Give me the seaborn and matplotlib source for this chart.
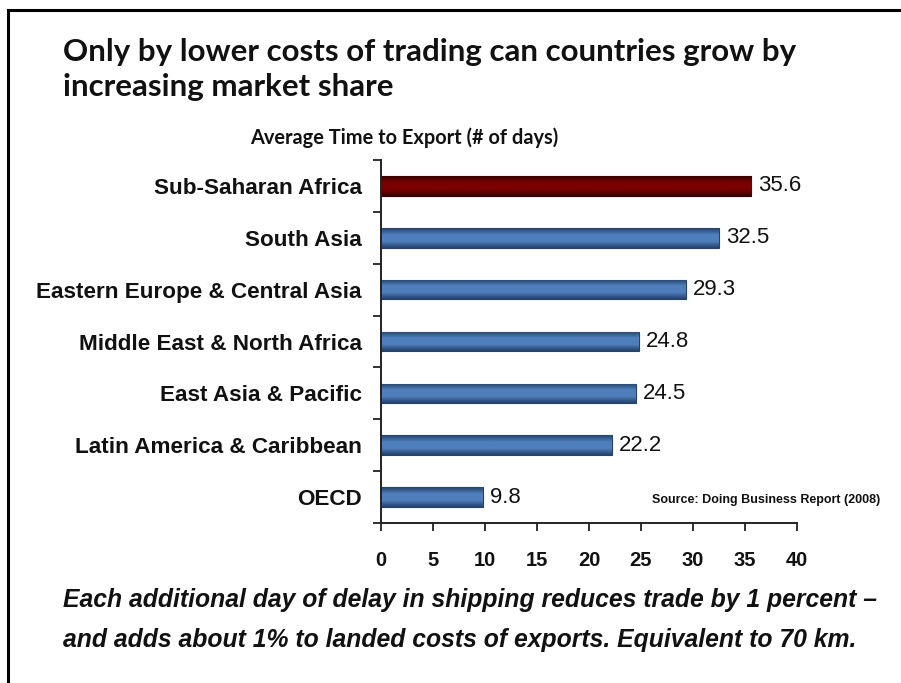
import numpy as np
import pandas as pd
import matplotlib
matplotlib.use("Agg")
import matplotlib.pyplot as plt
import seaborn as sns
from matplotlib.colors import LinearSegmentedColormap
from matplotlib.lines import Line2D

# Average time to export, in days, by region
regions = [
    "Sub-Saharan Africa",
    "South Asia",
    "Eastern Europe & Central Asia",
    "Middle East & North Africa",
    "East Asia & Pacific",
    "Latin America & Caribbean",
    "OECD",
]
days = [35.6, 32.5, 29.3, 24.8, 24.5, 22.2, 9.8]
x_ticks = [0, 5, 10, 15, 20, 25, 30, 35, 40]

title_lines = ["Only by lower costs of trading can countries grow by",
               "increasing market share"]
subtitle = "Average Time to Export (# of days)"
source_note = "Source: Doing Business Report (2008)"
footnote_lines = [
    "Each additional day of delay in shipping reduces trade by 1 percent \u2013",
    "and adds about 1% to landed costs of exports. Equivalent to 70 km.",
]

BLUE_MID, BLUE_EDGE = "#4f7fbc", "#24426b"
RED_MID, RED_EDGE = "#7a0000", "#3a0000"
bar_colors = [RED_MID] + [BLUE_MID] * (len(regions) - 1)
edge_colors = [RED_EDGE] + [BLUE_EDGE] * (len(regions) - 1)

df = pd.DataFrame({"region": regions, "days": days})

sns.set_theme(style="white")
plt.rcParams["font.family"] = ["Liberation Sans", "DejaVu Sans"]

fig = plt.figure(figsize=(9.01, 6.83), dpi=100)
fig.patch.set_facecolor("white")
ax = fig.add_axes([381 / 901, 1 - 523 / 683, (797 - 381) / 901, (523 - 160) / 683])

sns.barplot(data=df, y="region", x="days", hue="region", palette=bar_colors,
            legend=False, width=0.38, saturation=1, ax=ax, orient="h")

# Shaded cylinder-like fill for each bar
for patch, mid, edge in zip(ax.patches, bar_colors, edge_colors):
    cmap = LinearSegmentedColormap.from_list("shade", [edge, mid, mid, edge])
    grad = np.linspace(0, 1, 64).reshape(-1, 1)
    x0, y0 = patch.get_x(), patch.get_y()
    w, h = patch.get_width(), patch.get_height()
    im = ax.imshow(grad, cmap=cmap, aspect="auto", interpolation="bilinear",
                   extent=[x0, x0 + w, y0 + h, y0], zorder=patch.get_zorder() + 0.1)
    im.set_clip_path(patch)
    patch.set_edgecolor(edge)
    patch.set_linewidth(0.8)

ax.set_xlim(x_ticks[0], x_ticks[-1])
ax.set_ylim(len(regions) - 0.5, -0.5)
ax.set_xlabel("")
ax.set_ylabel("")

ax.set_xticks(x_ticks)
ax.set_xticklabels([str(t) for t in x_ticks], fontsize=14.5, fontweight="bold",
                   color="#111111")
ax.tick_params(axis="x", direction="out", length=6, width=1.3, color="#222222",
               pad=14, bottom=True)

ax.set_yticks(range(len(regions)))
ax.set_yticklabels(regions, fontsize=16.2, fontweight="bold", color="#111111")
ax.set_yticks(np.arange(-0.5, len(regions), 1.0), minor=True)
ax.tick_params(axis="y", which="major", length=0, pad=14)
ax.tick_params(axis="y", which="minor", direction="out", length=6, width=1.3,
               color="#222222", left=True)

for side in ["top", "right"]:
    ax.spines[side].set_visible(False)
for side in ["left", "bottom"]:
    ax.spines[side].set_color("#222222")
    ax.spines[side].set_linewidth(1.4)

for container in ax.containers:
    ax.bar_label(container, labels=[f"{v:.1f}" for v in container.datavalues],
                 padding=5, fontsize=16, color="#111111")

# Title block
fig.text(63 / 901, 1 - 38 / 683, title_lines[0], fontsize=22.5, fontweight="bold",
         family=["Lato", "DejaVu Sans"], va="top", ha="left", color="#111111")
fig.text(63 / 901, 1 - 73 / 683, title_lines[1], fontsize=22.5, fontweight="bold",
         family=["Lato", "DejaVu Sans"], va="top", ha="left", color="#111111")
fig.text(404 / 901, 1 - 138 / 683, subtitle, fontsize=14.4, fontweight="bold",
         family=["Lato", "DejaVu Sans"], va="center", ha="center", color="#111111")

fig.text(880 / 901, 1 - 500 / 683, source_note, fontsize=9, fontweight="bold",
         va="center", ha="right", color="#111111")

fig.text(63 / 901, 1 - 600 / 683, footnote_lines[0], fontsize=17.8, fontweight="bold",
         style="italic", va="center", ha="left", color="#111111")
fig.text(63 / 901, 1 - 640 / 683, footnote_lines[1], fontsize=17.8, fontweight="bold",
         style="italic", va="center", ha="left", color="#111111")

# Frame lines along the left and top edges
fig.add_artist(Line2D([8 / 901, 8 / 901], [0, 1 - 10 / 683], transform=fig.transFigure,
                      color="black", linewidth=2.2, solid_capstyle="projecting"))
fig.add_artist(Line2D([8 / 901, 1], [1 - 10 / 683, 1 - 10 / 683], transform=fig.transFigure,
                      color="black", linewidth=2.2, solid_capstyle="projecting"))

fig.savefig("out.png", dpi=100, facecolor="white")
